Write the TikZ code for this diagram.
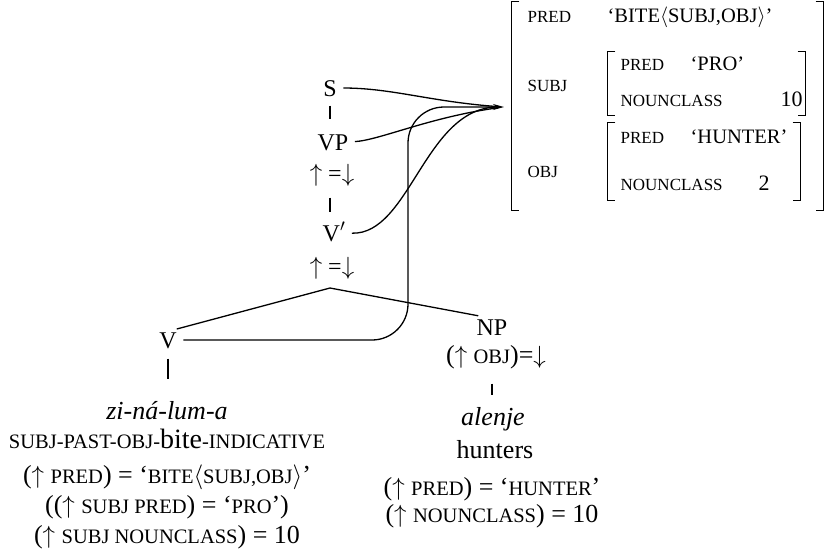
\documentclass[tikz,border=0pt]{standalone}
\usepackage{fontspec}
\setmainfont{Liberation Serif}
\usetikzlibrary{arrows.meta}

% small capitals, faked with smaller upper case
\newcommand{\fsc}[1]{{\fontsize{20.5}{24}\selectfont #1}}
% brackets round an attribute-value box
\newcommand{\avmbrk}[1]{%
  \draw (#1.north west) ++(8,0) -- (#1.north west) -- (#1.south west) -- ++(8,0);
  \draw (#1.north east) ++(-8,0) -- (#1.north east) -- (#1.south east) -- ++(-8,0);}

\begin{document}
\begin{tikzpicture}[x=1pt,y=-1pt,line width=1.3pt,>={Stealth[length=11pt,width=6pt]},
    cat/.style={inner sep=0pt,anchor=base,text height=16pt,text depth=0pt,font=\fontsize{24}{28}\selectfont},
    gloss/.style={inner sep=0pt,anchor=base,text height=18pt,text depth=0pt,font=\fontsize{26}{30}\selectfont},
    attr/.style={inner sep=0pt,anchor=base west,font=\fontsize{17}{20}\selectfont},
    aval/.style={inner sep=0pt,anchor=base west,font=\fontsize{20.5}{24}\selectfont},
    val/.style={inner sep=0pt,anchor=base west,font=\fontsize{22}{26}\selectfont},
    feed/.style={shorten <=6pt,shorten >=6pt}]
    \useasboundingbox (0,0) rectangle (825,550);

    % c-structure
    \node[cat] (S) at (330,96) {S};
    \node[cat] (VP) at (333,150) {VP};
    \node[cat] (eqa) at (332,181) {$\uparrow$ =$\downarrow$};
    \node[cat] (Vbar) at (334,241) {V$'$};
    \node[cat] (eqb) at (332,274) {$\uparrow$ =$\downarrow$};
    \coordinate (apex) at (330,288);
    \node[cat] (V) at (168,348) {V};
    \node[cat] (NP) at (492,335) {NP};
    \node[gloss] (npeq) at (496,363) {($\uparrow$ \fsc{OBJ})=$\downarrow$};

    % lexical entries
    \node[gloss] (zina) at (167,419) {\textit{zi-ná-lum-a}};
    \node[gloss] (morph) at (167,448) {\fsc{SUBJ-PAST-OBJ-}{\fontsize{28}{30}\selectfont bite}\fsc{-INDICATIVE}};
    \node[gloss] (vpred) at (167,483) {($\uparrow$ \fsc{PRED}) = `\fsc{BITE}$\langle$\fsc{SUBJ,OBJ}$\rangle$'};
    \node[gloss] (vpro) at (167,513) {(($\uparrow$ \fsc{SUBJ PRED}) = `\fsc{PRO}')};
    \node[gloss] (vnc) at (167,543) {($\uparrow$ \fsc{SUBJ NOUNCLASS}) = 10};
    \node[gloss] (alenje) at (493,425) {\textit{alenje}};
    \node[gloss] (hunters) at (495,458) {hunters};
    \node[gloss] (hpred) at (492,495) {($\uparrow$ \fsc{PRED}) = `\fsc{HUNTER}'};
    \node[gloss] (hnc) at (492,522) {($\uparrow$ \fsc{NOUNCLASS}) = 10};

    % f-structure
    \node[inner sep=0pt,minimum width=311pt,minimum height=208pt] (fs) at (667.5,106) {};
    \node[inner sep=0pt,minimum width=197pt,minimum height=63pt] (fsubj) at (706.5,83.5) {};
    \node[inner sep=0pt,minimum width=192pt,minimum height=77pt] (fobj) at (704,161.5) {};
    \avmbrk{fs}
    \avmbrk{fsubj}
    \avmbrk{fobj}
    \node[attr] (apred) at (527,22) {PRED};
    \node[aval] (abite) at (607,22) {`BITE$\langle$SUBJ,OBJ$\rangle$'};
    \node[attr] (asubj) at (527,91) {SUBJ};
    \node[attr] (spred) at (620,70) {PRED};
    \node[aval] (spro) at (690,70) {`PRO'};
    \node[attr] (snc) at (620,106) {NOUNCLASS};
    \node[val] (sten) at (780,106) {10};
    \node[attr] (aobj) at (527,177) {OBJ};
    \node[attr] (opred) at (620,143) {PRED};
    \node[aval] (ohunter) at (690,143) {`HUNTER'};
    \node[attr] (onc) at (620,190) {NOUNCLASS};
    \node[val] (otwo) at (758,190) {2};
    \coordinate (tip) at (504,107);
    \coordinate (vbend) at (408,107);

    % tree lines
    \draw[shorten <=9pt,shorten >=14pt] (S.south) -- (S.south |- VP.north);
    \draw[shorten <=16pt,shorten >=12pt] (S |- eqa.south) -- (S |- Vbar.north);
    \draw[shorten <=9pt,shorten >=14pt] (V.north) -- (apex) -- (NP.north);
    \draw[shorten <=10pt,shorten >=21pt] (V.south) -- (V.south |- zina.north);
    \draw[shorten <=20pt,shorten >=11pt] (NP |- npeq.south) -- (NP |- alenje.north);

    % projection to f-structure
    \draw[feed] (S.east) .. controls (392,88) and (432,102) .. (tip);
    \draw[feed] (VP.east) .. controls (380,140) and (430,117) .. (tip);
    \draw[feed] (Vbar.east) .. controls (410,235) and (425,107) .. (tip);
    \draw[->,rounded corners=36pt,shorten <=6pt] (V.east) -| (vbend) -- (tip);
\end{tikzpicture}
\end{document}
